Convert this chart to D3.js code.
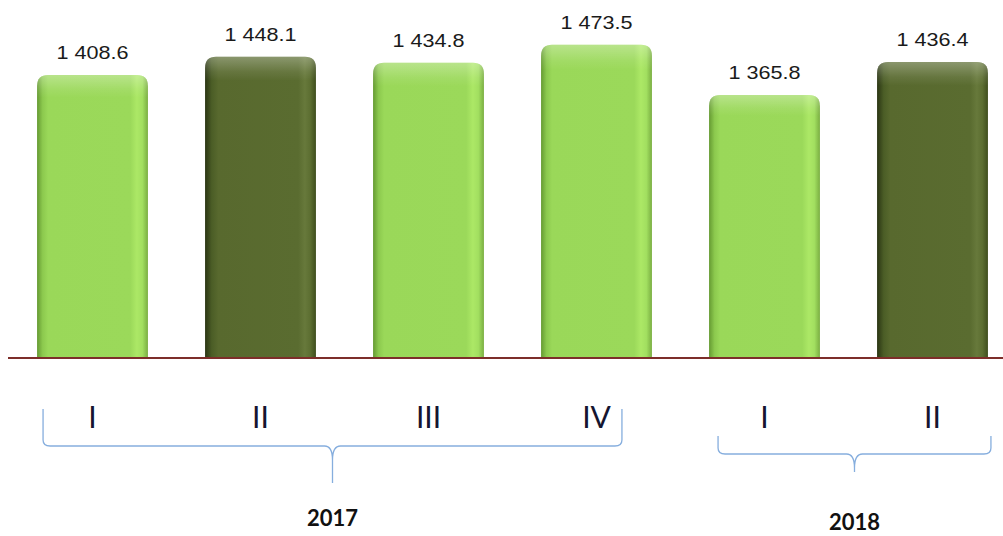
<!DOCTYPE html>
<html>
<head>
<meta charset="utf-8">
<script src="https://cdn.jsdelivr.net/npm/d3@7"></script>
<style>
  body { margin: 0; background: #fff; }
  svg { display: block; }
</style>
</head>
<body>
<svg id="chart" width="1003" height="536"></svg>
<script>
// data
const quarters = ["I", "II", "III", "IV", "I", "II"];
const years = ["2017", "2017", "2017", "2017", "2018", "2018"];
const values = [1408.6, 1448.1, 1434.8, 1473.5, 1365.8, 1436.4];

const svg = d3.select("#chart");
const width = +svg.attr("width");

const x = d3
  .scaleBand()
  .domain(d3.range(values.length))
  .range([8.5, 1016.5])
  .paddingInner(0.34)
  .paddingOuter(0.17);

const y = d3.scaleLinear().domain([800, 1570]).range([358, 0]);
const baseY = y(800);

const fmt = v => d3.format(",.1f")(v).replace(",", " ");

// gradients for the bevelled bars
const defs = svg.append("defs");
function hGrad(id, stops) {
  const g = defs.append("linearGradient").attr("id", id).attr("x1", 0).attr("x2", 1).attr("y1", 0).attr("y2", 0);
  stops.forEach(s => g.append("stop").attr("offset", s[0]).attr("stop-color", s[1]));
}
hGrad("light", [[0, "#659a32"], [0.05, "#8cc94e"], [0.1, "#9ad859"], [0.84, "#9bd95a"], [0.9, "#ace866"], [0.95, "#a2df60"], [1, "#7aae42"]]);
hGrad("dark", [[0, "#2a3513"], [0.06, "#4b5d26"], [0.12, "#58692e"], [0.84, "#5a6c30"], [0.9, "#67793b"], [0.95, "#5c6e31"], [1, "#3f4e1d"]]);
const shine = defs.append("linearGradient").attr("id", "topShine").attr("x1", 0).attr("x2", 0).attr("y1", 0).attr("y2", 1);
shine.append("stop").attr("offset", 0).attr("stop-color", "#fff").attr("stop-opacity", 0.3);
shine.append("stop").attr("offset", 0.05).attr("stop-color", "#fff").attr("stop-opacity", 0.08);
shine.append("stop").attr("offset", 0.08).attr("stop-color", "#fff").attr("stop-opacity", 0);

function barPath(x0, y0, w, h, r) {
  return `M${x0},${y0 + h} V${y0 + r} Q${x0},${y0} ${x0 + r},${y0} H${x0 + w - r} Q${x0 + w},${y0} ${x0 + w},${y0 + r} V${y0 + h} Z`;
}

const bars = svg.append("g").attr("class", "bars")
  .selectAll("g")
  .data(values)
  .enter()
  .append("g");

bars.append("path")
  .attr("d", (d, i) => barPath(x(i), y(d), x.bandwidth(), baseY - y(d), 11))
  .attr("fill", (d, i) => quarters[i] === "II" ? "url(#dark)" : "url(#light)");

bars.append("path")
  .attr("d", (d, i) => barPath(x(i), y(d), x.bandwidth(), baseY - y(d), 11))
  .attr("fill", "url(#topShine)");

// value labels (the source font is drawn a bit wide)
bars.append("text")
  .attr("transform", (d, i) => `translate(${x(i) + x.bandwidth() / 2},${y(d) - 16}) scale(1.2,1)`)
  .attr("text-anchor", "middle")
  .attr("font-family", "Liberation Sans, Arial, sans-serif")
  .attr("font-size", 18)
  .attr("fill", "#1a1a1a")
  .text(d => fmt(d));

// baseline
svg.append("line")
  .attr("x1", 8).attr("x2", width)
  .attr("y1", baseY).attr("y2", baseY)
  .attr("stroke", "#7d2e2a")
  .attr("stroke-width", 2);

// quarter labels
svg.append("g")
  .selectAll("text")
  .data(quarters)
  .enter()
  .append("text")
  .attr("x", (d, i) => x(i) + x.bandwidth() / 2)
  .attr("y", 428)
  .attr("text-anchor", "middle")
  .attr("font-family", "Lato, sans-serif")
  .attr("font-size", 30)
  .attr("fill", "#151530")
  .text(d => d);

// year braces
const groups = d3.groups(d3.range(years.length), i => years[i]);
const braceLayout = {
  "2017": { l: 6, r: -30, top: 409, mid: 446, tip: 483, label: 526 },
  "2018": { l: 9, r: 3, top: 436, mid: 454, tip: 472, label: 530 }
};

function bracePath(x0, x1, t, m, tip) {
  const c = (x0 + x1) / 2;
  return `M${x0},${t} V${m - 6} Q${x0},${m} ${x0 + 7},${m} H${c - 8} Q${c},${m} ${c},${m + 14} V${tip}` +
    ` M${c},${m + 14} Q${c},${m} ${c + 8},${m} H${x1 - 7} Q${x1},${m} ${x1},${m - 6} V${t}`;
}

const yg = svg.append("g").selectAll("g").data(groups).enter().append("g");
yg.append("path")
  .attr("d", d => {
    const L = braceLayout[d[0]];
    const x0 = x(d[1][0]) + L.l;
    const x1 = x(d[1][d[1].length - 1]) + x.bandwidth() + L.r;
    return bracePath(x0, x1, L.top, L.mid, L.tip);
  })
  .attr("fill", "none")
  .attr("stroke", "#86aede")
  .attr("stroke-width", 1.3);

yg.append("text")
  .attr("x", d => {
    const L = braceLayout[d[0]];
    return (x(d[1][0]) + L.l + x(d[1][d[1].length - 1]) + x.bandwidth() + L.r) / 2;
  })
  .attr("y", d => braceLayout[d[0]].label)
  .attr("text-anchor", "middle")
  .attr("font-family", "Lato, sans-serif")
  .attr("font-weight", "bold")
  .attr("font-size", 22)
  .attr("fill", "#111")
  .text(d => d[0]);
</script>
</body>
</html>
